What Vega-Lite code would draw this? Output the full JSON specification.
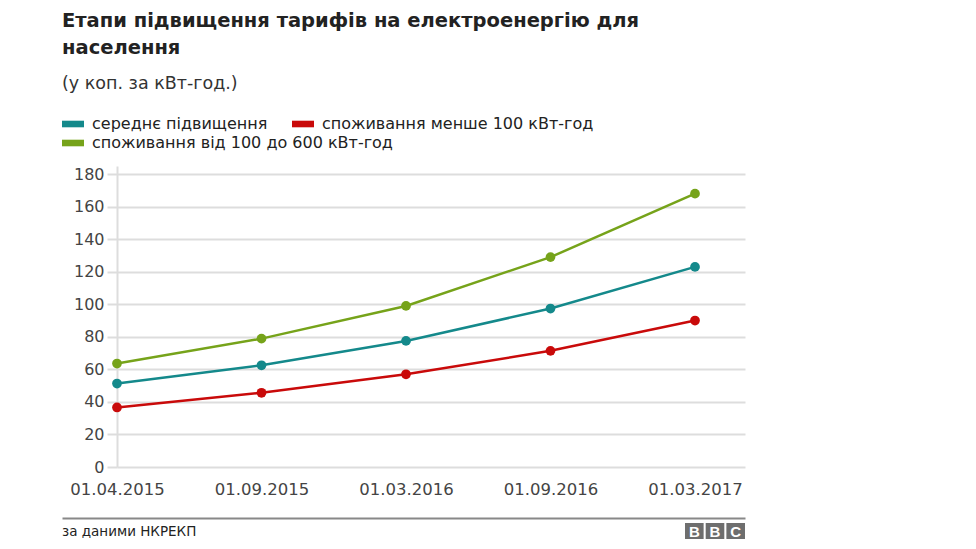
{
  "$schema": "https://vega.github.io/schema/vega-lite/v6.json",
  "background": "white",
  "padding": {"left": 62, "top": 11, "right": 10, "bottom": 4},
  "title": {
    "text": ["Етапи підвищення тарифів на електроенергію для", "населення"],
    "subtitle": "(у коп. за кВт-год.)",
    "anchor": "start",
    "font": "DejaVu Sans",
    "fontSize": 19.5,
    "fontWeight": "bold",
    "color": "#222222",
    "lineHeight": 27,
    "subtitleFont": "DejaVu Sans",
    "subtitleFontSize": 17.5,
    "subtitleColor": "#333333",
    "subtitlePadding": 16,
    "offset": 20
  },
  "config": {
    "font": "DejaVu Sans",
    "view": {"stroke": null},
    "axis": {"labelFont": "DejaVu Sans", "titleFont": "DejaVu Sans"},
    "legend": {
      "labelFont": "DejaVu Sans",
      "title": null,
      "orient": "none",
      "symbolType": "M-1,-0.3L1,-0.3L1,0.3L-1,0.3Z",
      "symbolSize": 484,
      "symbolStrokeWidth": 0,
      "symbolOpacity": 1,
      "labelFontSize": 16,
      "labelLimit": 0,
      "labelColor": "#222222",
      "labelOffset": 8
    }
  },
  "spacing": 20,
  "resolve": {"legend": {"color": "independent"}},
  "vconcat": [
    {
      "width": 628,
      "height": 301,
      "data": {
        "values": [
          {"date": "01.04.2015", "series": "середнє підвищення", "value": 51.3},
          {"date": "01.09.2015", "series": "середнє підвищення", "value": 62.5},
          {"date": "01.03.2016", "series": "середнє підвищення", "value": 77.5},
          {"date": "01.09.2016", "series": "середнє підвищення", "value": 97.4},
          {"date": "01.03.2017", "series": "середнє підвищення", "value": 123},
          {"date": "01.04.2015", "series": "споживання менше 100 кВт-год", "value": 36.6},
          {"date": "01.09.2015", "series": "споживання менше 100 кВт-год", "value": 45.6},
          {"date": "01.03.2016", "series": "споживання менше 100 кВт-год", "value": 57},
          {"date": "01.09.2016", "series": "споживання менше 100 кВт-год", "value": 71.4},
          {"date": "01.03.2017", "series": "споживання менше 100 кВт-год", "value": 90},
          {"date": "01.04.2015", "series": "споживання від 100 до 600 кВт-год", "value": 63.6},
          {"date": "01.09.2015", "series": "споживання від 100 до 600 кВт-год", "value": 78.9},
          {"date": "01.03.2016", "series": "споживання від 100 до 600 кВт-год", "value": 99},
          {"date": "01.09.2016", "series": "споживання від 100 до 600 кВт-год", "value": 129},
          {"date": "01.03.2017", "series": "споживання від 100 до 600 кВт-год", "value": 168}
        ]
      },
      "encoding": {
        "x": {
          "field": "date",
          "type": "ordinal",
          "sort": null,
          "scale": {"type": "point", "padding": 0.173, "align": 0},
          "axis": {
            "title": null,
            "domain": false,
            "ticks": false,
            "grid": false,
            "labelAngle": 0,
            "labelFontSize": 16.5,
            "labelColor": "#444444",
            "labelPadding": 14
          }
        },
        "y": {
          "field": "value",
          "type": "quantitative",
          "scale": {"domain": [0, 185], "nice": false, "zero": true},
          "axis": {
            "title": null,
            "values": [0, 20, 40, 60, 80, 100, 120, 140, 160, 180],
            "domain": true,
            "domainColor": "#dddddd",
            "domainWidth": 2,
            "ticks": true,
            "tickColor": "#dddddd",
            "tickWidth": 2,
            "tickSize": 10,
            "grid": true,
            "gridColor": "#dddddd",
            "gridWidth": 2,
            "labelFontSize": 16,
            "labelColor": "#444444",
            "labelPadding": 3
          }
        }
      },
      "resolve": {"scale": {"color": "independent"}, "legend": {"color": "independent"}},
      "layer": [
        {
          "transform": [{"filter": {"field": "series", "equal": "середнє підвищення"}}],
          "encoding": {
            "color": {
              "field": "series",
              "type": "nominal",
              "scale": {"range": ["#14898b"]},
              "legend": {"legendX": -55, "legendY": -53}
            }
          },
          "layer": [
            {"mark": {"type": "line", "strokeWidth": 2.5}},
            {"mark": {"type": "point", "filled": true, "size": 95, "opacity": 1}}
          ]
        },
        {
          "transform": [{"filter": {"field": "series", "equal": "споживання менше 100 кВт-год"}}],
          "encoding": {
            "color": {
              "field": "series",
              "type": "nominal",
              "scale": {"range": ["#c90a0a"]},
              "legend": {"legendX": 175, "legendY": -53}
            }
          },
          "layer": [
            {"mark": {"type": "line", "strokeWidth": 2.5}},
            {"mark": {"type": "point", "filled": true, "size": 95, "opacity": 1}}
          ]
        },
        {
          "transform": [{"filter": {"field": "series", "equal": "споживання від 100 до 600 кВт-год"}}],
          "encoding": {
            "color": {
              "field": "series",
              "type": "nominal",
              "scale": {"range": ["#76a31a"]},
              "legend": {"legendX": -55, "legendY": -34}
            }
          },
          "layer": [
            {"mark": {"type": "line", "strokeWidth": 2.5}},
            {"mark": {"type": "point", "filled": true, "size": 95, "opacity": 1}}
          ]
        }
      ]
    },
    {
      "width": 628,
      "height": 16,
      "resolve": {"scale": {"x": "independent"}},
      "layer": [
        {
          "data": {"values": [{"src": "за даними НКРЕКП"}]},
          "mark": {"type": "text", "align": "left", "baseline": "middle", "fontSize": 13.5, "color": "#222222", "dy": 1},
          "encoding": {
            "x": {
              "field": "src",
              "type": "nominal",
              "bandPosition": 0,
              "scale": {"type": "band", "range": [-55, 628], "paddingInner": 0, "paddingOuter": 0},
              "axis": {
                "orient": "top",
                "domain": true,
                "domainColor": "#888888",
                "domainWidth": 2,
                "labels": false,
                "ticks": false,
                "grid": false,
                "title": null,
                "offset": 5
              }
            },
            "text": {"field": "src"}
          }
        },
        {
          "data": {"values": [{"k": "1", "t": "B"}, {"k": "2", "t": "B"}, {"k": "3", "t": "C"}]},
          "encoding": {
            "x": {
              "field": "k",
              "type": "ordinal",
              "scale": {"type": "band", "range": [568, 628], "paddingInner": 0.1, "paddingOuter": 0},
              "axis": null
            }
          },
          "layer": [
            {"mark": {"type": "rect", "color": "#6e6e6e"}},
            {
              "mark": {"type": "text", "color": "white", "font": "Liberation Sans", "fontSize": 15, "fontWeight": "bold", "baseline": "middle", "dy": 1},
              "encoding": {"text": {"field": "t"}}
            }
          ]
        }
      ]
    }
  ]
}
